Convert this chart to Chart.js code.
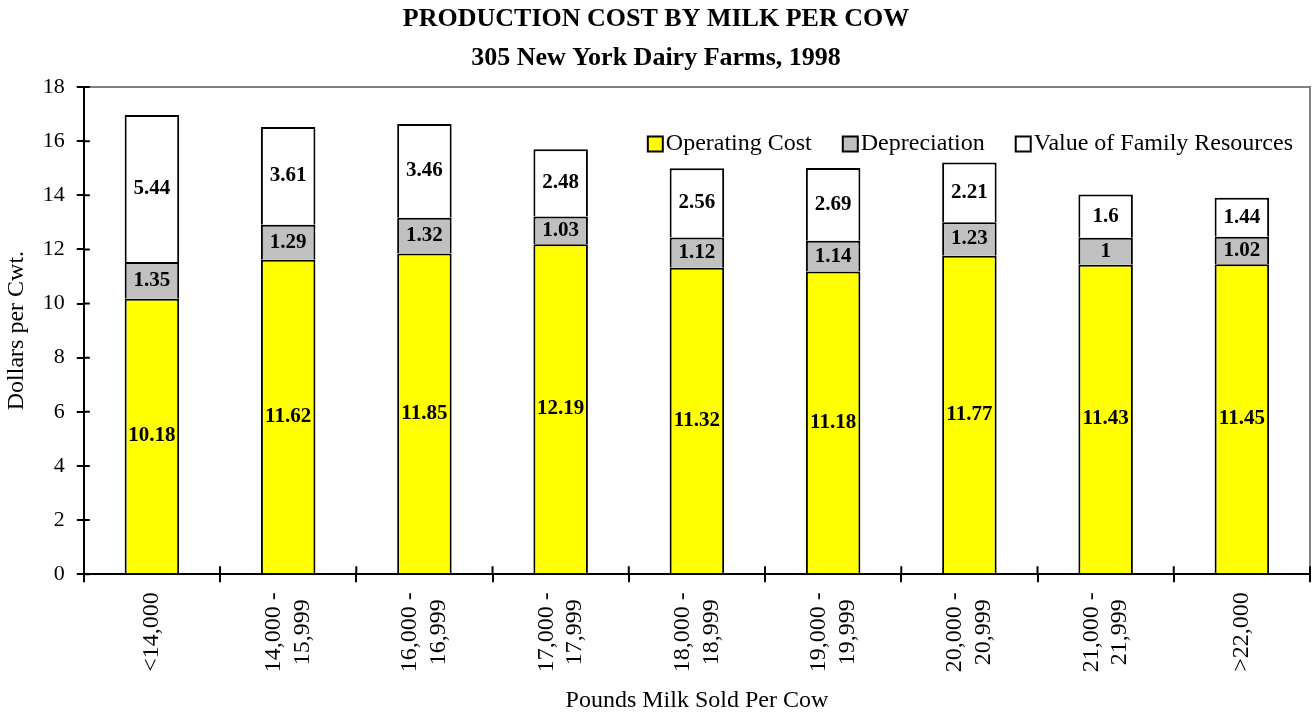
<!DOCTYPE html>
<html>
<head>
<meta charset="utf-8">
<script src="https://cdn.jsdelivr.net/npm/chart.js@4.4.1/dist/chart.umd.min.js"></script>
<style>
  html, body { margin: 0; padding: 0; background: #fff; }
  #wrap { width: 1314px; height: 717px; }
</style>
</head>
<body>
<div id="wrap"><canvas id="milkChart"></canvas></div>
<script>
const categories = [
  '<14,000',
  ['14,000 -', '15,999'],
  ['16,000 -', '16,999'],
  ['17,000 -', '17,999'],
  ['18,000 -', '18,999'],
  ['19,000 -', '19,999'],
  ['20,000 -', '20,999'],
  ['21,000 -', '21,999'],
  '>22,000'
];
const operatingCost = [10.18, 11.62, 11.85, 12.19, 11.32, 11.18, 11.77, 11.43, 11.45];
const depreciation = [1.35, 1.29, 1.32, 1.03, 1.12, 1.14, 1.23, 1, 1.02];
const familyResources = [5.44, 3.61, 3.46, 2.48, 2.56, 2.69, 2.21, 1.6, 1.44];
const yTicks = [0, 2, 4, 6, 8, 10, 12, 14, 16, 18];

const serif = "'Liberation Serif', 'Times New Roman', serif";

// values written in the middle of each segment
const segmentLabels = {
  id: 'segmentLabels',
  afterDatasetsDraw(chart) {
    const ctx = chart.ctx;
    ctx.save();
    ctx.font = 'bold 21px ' + serif;
    ctx.fillStyle = '#000';
    ctx.textAlign = 'center';
    ctx.textBaseline = 'middle';
    chart.data.datasets.forEach((ds, i) => {
      chart.getDatasetMeta(i).data.forEach((bar, j) => {
        ctx.fillText(String(ds.data[j]), bar.x, (bar.y + bar.base) / 2);
      });
    });
    ctx.restore();
  }
};

// two-line rotated labels: centre the block on the bar and centre the lines on each other
const centreXLabels = {
  id: 'centreXLabels',
  beforeDraw(chart) {
    const scale = chart.scales.x;
    const items = scale.getLabelItems(chart.chartArea);
    if (items._centred) return;
    const ctx = chart.ctx;
    items.forEach(item => {
      const lines = Array.isArray(item.label) ? item.label : [item.label];
      ctx.save();
      ctx.font = item.font.string;
      const maxW = Math.max(...lines.map(l => ctx.measureText(l).width));
      ctx.restore();
      item.options.textAlign = 'center';
      item.options.translation[1] += maxW / 2;
      item.textOffset -= (lines.length - 1) * item.font.lineHeight / 2;
    });
    items._centred = true;
  }
};

// tick marks that cross the axes, and the grey frame at top and right
const axisDetails = {
  id: 'axisDetails',
  afterDraw(chart) {
    const ctx = chart.ctx;
    const area = chart.chartArea;
    const x = chart.scales.x;
    const y = chart.scales.y;
    ctx.save();
    ctx.strokeStyle = '#808080';
    ctx.lineWidth = 2;
    ctx.beginPath();
    ctx.moveTo(area.left, y.getPixelForValue(18));
    ctx.lineTo(area.right, y.getPixelForValue(18));
    ctx.lineTo(area.right, y.getPixelForValue(0));
    ctx.stroke();

    ctx.strokeStyle = '#000';
    ctx.beginPath();
    yTicks.forEach(v => {
      const py = y.getPixelForValue(v);
      ctx.moveTo(area.left, py);
      ctx.lineTo(area.left + 6, py);
    });
    const step = (x.getPixelForValue(1) - x.getPixelForValue(0));
    for (let i = 0; i < categories.length; i++) {
      const px = x.getPixelForValue(i) + step / 2;
      ctx.moveTo(px, area.bottom);
      ctx.lineTo(px, area.bottom - 8);
    }
    ctx.stroke();
    ctx.restore();
  }
};

// legend inside the plot area, top right
const innerLegend = {
  id: 'innerLegend',
  afterDraw(chart) {
    const ctx = chart.ctx;
    const area = chart.chartArea;
    const box = 15, gapText = 3, gapItem = 31;
    ctx.save();
    ctx.font = '24px ' + serif;
    ctx.textBaseline = 'middle';
    const items = chart.data.datasets.map(ds => ({
      text: ds.label, color: ds.backgroundColor, w: ctx.measureText(ds.label).width
    }));
    let total = 0;
    items.forEach((it, i) => { total += box + gapText + it.w + (i ? gapItem : 0); });
    let px = area.right - 17 - total;
    const py = area.top + 57;
    items.forEach(it => {
      ctx.fillStyle = it.color;
      ctx.fillRect(px, py - box / 2, box, box);
      ctx.strokeStyle = '#000';
      ctx.lineWidth = 2;
      ctx.strokeRect(px, py - box / 2, box, box);
      ctx.fillStyle = '#000';
      ctx.fillText(it.text, px + box + gapText, py);
      px += box + gapText + it.w + gapItem;
    });
    ctx.restore();
  }
};

const barStyle = {
  borderColor: '#000',
  borderWidth: 2,
  barPercentage: 0.4,
  categoryPercentage: 1
};

new Chart(document.getElementById('milkChart'), {
  type: 'bar',
  data: {
    labels: categories,
    datasets: [
      { label: 'Operating Cost', data: operatingCost, backgroundColor: '#ffff00', ...barStyle },
      { label: 'Depreciation', data: depreciation, backgroundColor: '#c0c0c0', ...barStyle },
      { label: 'Value of Family Resources', data: familyResources, backgroundColor: '#ffffff', ...barStyle }
    ]
  },
  plugins: [segmentLabels, centreXLabels, axisDetails, innerLegend],
  options: {
    responsive: true,
    maintainAspectRatio: false,
    animation: false,
    devicePixelRatio: 1,
    layout: { padding: { left: 2, right: 4, top: 0, bottom: 2 } },
    plugins: {
      legend: { display: false },
      tooltip: { enabled: false },
      title: {
        display: true,
        text: ['PRODUCTION COST BY MILK PER COW', '305 New York Dairy Farms, 1998'],
        color: '#000',
        font: { family: serif, size: 26, weight: 'bold', lineHeight: 1.5 },
        padding: { top: 0, bottom: 9 }
      }
    },
    scales: {
      x: {
        stacked: true,
        offset: true,
        border: { color: '#000', width: 2 },
        grid: { offset: true, drawOnChartArea: false, color: '#000', lineWidth: 2, tickLength: 8 },
        ticks: {
          color: '#000',
          font: { family: serif, size: 24, lineHeight: 1.2 },
          minRotation: 90,
          maxRotation: 90,
          padding: 10,
          autoSkip: false
        },
        title: {
          display: true,
          text: 'Pounds Milk Sold Per Cow',
          color: '#000',
          font: { family: serif, size: 24 },
          padding: { top: 4, bottom: 0 }
        }
      },
      y: {
        stacked: true,
        min: 0,
        max: 18,
        afterBuildTicks(scale) { scale.ticks = yTicks.map(v => ({ value: v })); },
        border: { color: '#000', width: 2 },
        grid: { drawOnChartArea: false, color: '#000', lineWidth: 2, tickLength: 7 },
        ticks: {
          color: '#000',
          font: { family: serif, size: 22 },
          padding: 12
        },
        title: {
          display: true,
          text: 'Dollars per Cwt.',
          color: '#000',
          font: { family: serif, size: 24 },
          padding: { top: 0, bottom: 0 }
        }
      }
    }
  }
});
</script>
</body>
</html>
